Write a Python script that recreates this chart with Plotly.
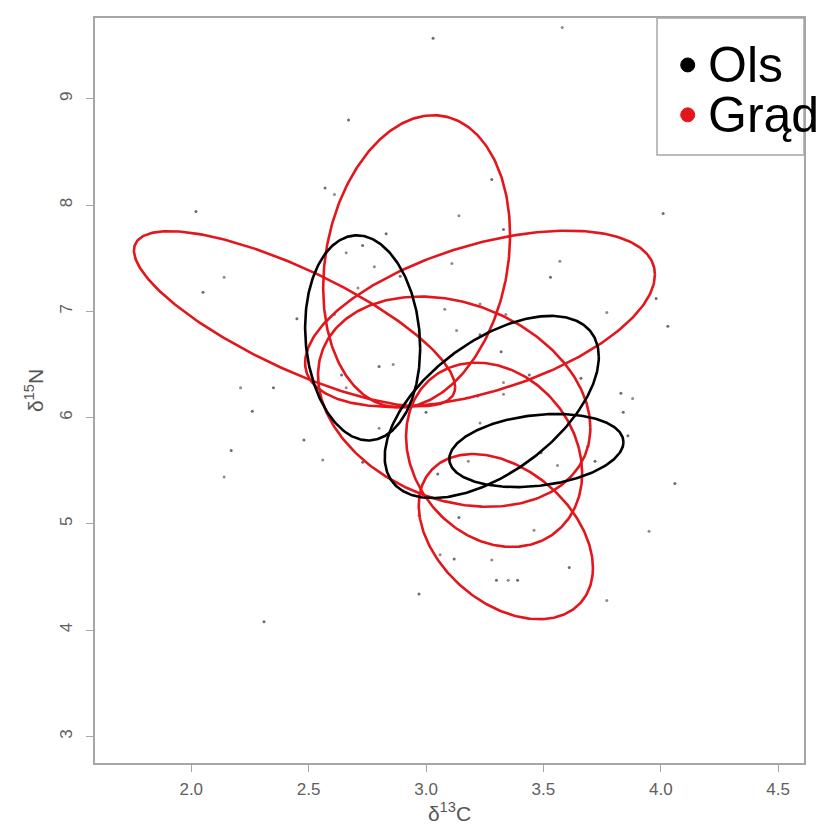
import numpy as np
import plotly.graph_objects as go

# ---- data -------------------------------------------------------------
# ellipse parameters (data units): centre, sd along x, sd along y, correlation
ols_cx = [2.73, 3.28, 3.47]
ols_cy = [6.75, 6.10, 5.69]
ols_sx = [0.245, 0.456, 0.371]
ols_sy = [0.965, 0.857, 0.344]
ols_r = [-0.10, 0.55, 0.23]

grad_cx = [2.44, 2.96, 3.23, 3.12, 3.29, 3.34]
grad_cy = [6.93, 7.47, 6.93, 6.15, 5.65, 4.88]
grad_sx = [0.684, 0.398, 0.745, 0.580, 0.375, 0.371]
grad_sy = [0.824, 1.375, 0.829, 0.989, 0.867, 0.777]
grad_r = [-0.78, 0.18, 0.50, -0.25, -0.20, -0.38]

# raw observations
ols_x = [2.67, 2.57, 2.02, 2.83, 2.73, 2.89, 2.05, 2.45, 2.80, 2.64, 2.35, 2.26,
         3.03, 3.28, 3.33, 4.01, 3.53, 3.98, 4.03, 3.23, 3.32, 3.66, 3.83, 3.84,
         3.44, 2.17, 2.48, 2.73, 2.31, 3.86, 3.72, 3.49, 3.05, 4.06, 3.14, 3.61,
         3.12, 3.30, 3.39, 2.97, 3.00]
ols_y = [8.80, 8.16, 7.94, 7.73, 7.62, 7.33, 7.18, 6.93, 6.48, 6.40, 6.28, 6.06,
         9.57, 8.24, 7.77, 7.92, 7.32, 7.12, 6.86, 6.78, 6.62, 6.37, 6.23, 6.05,
         6.40, 5.69, 5.79, 5.58, 4.08, 5.83, 5.59, 5.67, 5.47, 5.38, 5.06, 4.59,
         4.67, 4.47, 4.47, 4.34, 6.05]
grad_x = [2.61, 2.66, 2.78, 2.14, 2.71, 2.61, 2.86, 2.21, 2.66, 3.58, 3.14, 3.57,
          3.11, 3.77, 3.08, 3.23, 3.34, 3.13, 3.33, 3.22, 3.88, 3.33, 2.14, 2.56,
          2.80, 3.69, 3.56, 3.18, 3.95, 3.46, 3.28, 3.06, 3.35, 3.77, 2.97, 3.23]
grad_y = [8.10, 7.55, 7.42, 7.32, 7.22, 6.97, 6.50, 6.28, 6.28, 9.67, 7.90, 7.47,
          7.45, 6.99, 7.02, 7.07, 6.97, 6.82, 6.33, 6.20, 6.18, 6.22, 5.44, 5.60,
          5.90, 5.73, 5.55, 5.59, 4.93, 4.94, 4.66, 4.71, 4.47, 4.28, 5.08, 5.95]

x_ticks = [2.0, 2.5, 3.0, 3.5, 4.0, 4.5]
y_ticks = [3, 4, 5, 6, 7, 8, 9]
x_range = [1.59, 4.61]
y_range = [2.75, 9.76]
legend_names = ["Ols", "Grąd"]
colors = ["#000000", "#e3161c"]

# ---- figure -----------------------------------------------------------
fig = go.Figure()

fig.add_trace(go.Scatter(x=ols_x, y=ols_y, mode="markers",
                         marker=dict(size=3, color="rgba(60,60,60,0.75)"),
                         showlegend=False, hoverinfo="skip"))
fig.add_trace(go.Scatter(x=grad_x, y=grad_y, mode="markers",
                         marker=dict(size=3, color="rgba(120,80,80,0.7)"),
                         showlegend=False, hoverinfo="skip"))

t = np.linspace(0, 2 * np.pi, 300)


def ell(cx, cy, sx, sy, r):
    ex = cx + sx * np.cos(t)
    ey = cy + sy * (r * np.cos(t) + np.sqrt(1 - r * r) * np.sin(t))
    return ex, ey


for cx, cy, sx, sy, r in zip(grad_cx, grad_cy, grad_sx, grad_sy, grad_r):
    ex, ey = ell(cx, cy, sx, sy, r)
    fig.add_trace(go.Scatter(x=ex, y=ey, mode="lines",
                             line=dict(color=colors[1], width=2.6),
                             showlegend=False, hoverinfo="skip"))
for cx, cy, sx, sy, r in zip(ols_cx, ols_cy, ols_sx, ols_sy, ols_r):
    ex, ey = ell(cx, cy, sx, sy, r)
    fig.add_trace(go.Scatter(x=ex, y=ey, mode="lines",
                             line=dict(color=colors[0], width=2.6),
                             showlegend=False, hoverinfo="skip"))

axis_common = dict(showline=True, linecolor="#a6a6a6", linewidth=1.5, mirror=True,
                   showgrid=False, zeroline=False, ticks="outside", ticklen=7,
                   tickcolor="#a6a6a6", tickwidth=1.2, automargin=False,
                   tickfont=dict(family="Liberation Sans, Arial", size=17, color="#606060"))

fig.update_xaxes(range=x_range, tickvals=x_ticks,
                 ticktext=[f"{v:.1f}" for v in x_ticks],
                 ticklabelstandoff=3,
                 title=dict(text="δ<sup>13</sup>C", standoff=7,
                            font=dict(family="Liberation Sans, Arial", size=21, color="#555555")),
                 **axis_common)
fig.update_yaxes(range=y_range, tickvals=y_ticks, ticktext=[str(v) for v in y_ticks],
                 tickangle=-90, ticklabelstandoff=7,
                 title=dict(text="δ<sup>15</sup>N", standoff=8,
                            font=dict(family="Liberation Sans, Arial", size=21, color="#555555")),
                 **axis_common)

# legend box drawn as in the original (large text overflowing the frame)
fig.add_shape(type="rect", xref="paper", yref="paper", x0=0.7927, x1=1.0, y0=0.816, y1=1.0,
              line=dict(color="#a6a6a6", width=1.5), fillcolor="white", layer="above")
leg_y = [0.937, 0.87]
for name, col, yy in zip(legend_names, colors, leg_y):
    fig.add_shape(type="circle", xref="paper", yref="paper", xsizemode="pixel",
                  ysizemode="pixel", xanchor=0.836, yanchor=yy, x0=-7, x1=7, y0=-7, y1=7,
                  fillcolor=col, line=dict(color=col, width=1), layer="above")
    fig.add_annotation(x=0.862, y=yy, xref="paper", yref="paper", text=name,
                       showarrow=False, xanchor="left", yanchor="middle",
                       font=dict(family="Liberation Sans, Arial", size=50, color="#000000"))

fig.update_layout(width=825, height=831, margin=dict(l=87, r=29, t=10, b=76),
                  plot_bgcolor="white", paper_bgcolor="white")

fig.write_html("out.html")
